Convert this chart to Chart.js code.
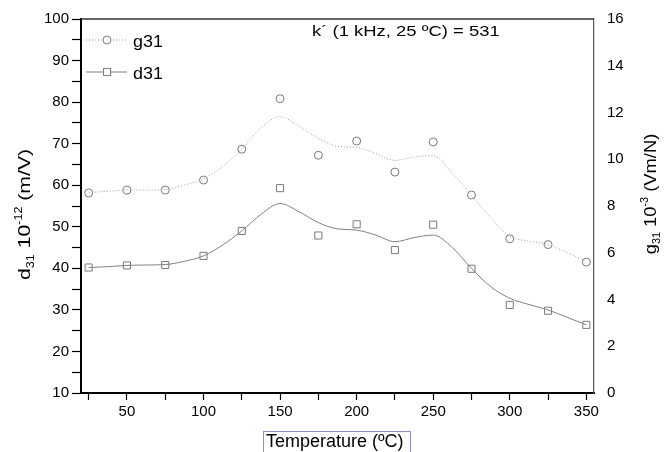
<!DOCTYPE html>
<html>
<head>
<meta charset="utf-8">
<script src="https://cdn.jsdelivr.net/npm/chart.js@4"></script>
<style>
  html,body{margin:0;padding:0;background:#fff;}
  #wrap{width:664px;height:452px;}
</style>
</head>
<body>
<div id="wrap"><canvas id="chart" width="664" height="452"></canvas></div>
<script>
// measured points
let temps=[25,50,75,100,125,150,175,200,225,250,275,300,325,350];
let d31=[40.2,40.7,40.8,43.0,49.0,59.3,47.9,50.6,44.4,50.5,39.9,31.2,29.8,26.4];
let g31=[8.56,8.68,8.68,9.11,10.43,12.59,10.17,10.78,9.45,10.74,8.47,6.60,6.35,5.60];

// smoothed curves
let curveTemps=[25,37.5,50,62.5,75,87.5,100,112.5,125,137.5,150,162.5,175,187.5,200,212.5,225,237.5,250,262.5,275,287.5,300,312.5,325,337.5,350];
let d31Curve=[40.2,40.4,40.7,40.8,40.9,41.7,43.0,45.6,49.0,53.0,55.6,53.6,51.0,49.5,49.2,48.0,46.4,47.4,48.0,45.0,40.0,35.6,32.8,31.3,30.0,28.2,26.4];
let g31Curve=[8.57,8.63,8.68,8.68,8.70,8.90,9.15,9.7,10.43,11.35,11.82,11.4,10.9,10.55,10.5,10.25,9.95,10.1,10.15,9.4,8.45,7.5,6.7,6.5,6.35,6.0,5.62];

let xTicks=[25,50,75,100,125,150,175,200,225,250,275,300,325,350];
let yTicks=[10,15,20,25,30,35,40,45,50,55,60,65,70,75,80,85,90,95,100];
let y2Ticks=[0,2,4,6,8,10,12,14,16];

let FONT='"Liberation Sans", Arial, sans-serif';

function pts(xs,ys){
  return xs.map((x,i)=>({x:x,y:ys[i]}));
}

// text with horizontal stretch
function stext(ctx,str,x,y,size,sx){
  ctx.save();
  ctx.font=size+'px '+FONT;
  ctx.translate(x,y);
  ctx.scale(sx,1);
  ctx.fillText(str,0,0);
  ctx.restore();
}

// rotated title with sub/superscripts
function richWidth(ctx,parts,sx){
  let w=0;
  parts.forEach(p=>{
    ctx.font=p.size+'px '+FONT;
    w+=ctx.measureText(p.t).width*sx;
  });
  return w;
}
function drawRich(ctx,parts,x,y,sx){
  ctx.save();
  ctx.translate(x,y);
  ctx.rotate(-Math.PI/2);
  ctx.scale(sx,1);
  let cx=0;
  parts.forEach(p=>{
    ctx.font=p.size+'px '+FONT;
    ctx.fillText(p.t,cx,p.dy);
    cx+=ctx.measureText(p.t).width;
  });
  ctx.restore();
}

let extras={
  id:'extras',
  afterDraw(chart){
    let ctx=chart.ctx;
    let a=chart.chartArea;
    ctx.save();
    // top frame
    ctx.strokeStyle='#333';
    ctx.lineWidth=1.5;
    ctx.beginPath();
    ctx.moveTo(a.left,a.top);
    ctx.lineTo(a.right,a.top);
    ctx.stroke();

    ctx.fillStyle='#000';
    ctx.textAlign='left';
    ctx.textBaseline='alphabetic';

    // legend
    ctx.strokeStyle='#999';
    ctx.lineWidth=1;
    ctx.setLineDash([1,2]);
    ctx.beginPath();ctx.moveTo(86,40);ctx.lineTo(127,40);ctx.stroke();
    ctx.setLineDash([]);
    ctx.strokeStyle='#808080';
    ctx.beginPath();ctx.moveTo(86,72);ctx.lineTo(127,72);ctx.stroke();
    ctx.fillStyle='#fff';
    ctx.beginPath();ctx.arc(107,40,4,0,Math.PI*2);ctx.fill();ctx.stroke();
    ctx.fillRect(103.5,68.5,7,7);ctx.strokeRect(103.5,68.5,7,7);
    ctx.fillStyle='#000';
    stext(ctx,'g31',133,47,16,1.12);
    stext(ctx,'d31',133,79,16,1.12);

    // annotation
    stext(ctx,'k\u00b4 (1 kHz, 25 \u00baC) = 531',312,36,15,1.23);

    // left title
    let left=[
      {t:'d',size:17,dy:0},
      {t:'31',size:10,dy:4},
      {t:' 10',size:17,dy:0},
      {t:'-12',size:10,dy:-8},
      {t:' (m/V)',size:17,dy:0}
    ];
    drawRich(ctx,left,30,280,1.25);

    // right title
    let right=[
      {t:'g',size:17,dy:0},
      {t:'31',size:10,dy:4},
      {t:' 10',size:17,dy:0},
      {t:'-3',size:10,dy:-8},
      {t:' (Vm/N)',size:17,dy:0}
    ];
    let rw=richWidth(ctx,right,1.08);
    drawRich(ctx,right,656,194+rw/2,1.08);

    // x title in a box
    ctx.strokeStyle='#8a90c4';
    ctx.lineWidth=1;
    ctx.strokeRect(263.5,431.5,147,30);
    ctx.font='18px '+FONT;
    ctx.fillText('Temperature (\u00baC)',266,447);
    ctx.restore();
  }
};

let ctx=document.getElementById('chart').getContext('2d');
let chart=new Chart(ctx,{
  type:'line',
  data:{
    datasets:[
      {
        label:'g31 fit',
        data:pts(curveTemps,g31Curve),
        yAxisID:'y2',
        borderColor:'#9a9a9a',
        borderWidth:1,
        borderDash:[1,2],
        pointRadius:0,
        cubicInterpolationMode:'monotone',
        fill:false
      },
      {
        label:'d31 fit',
        data:pts(curveTemps,d31Curve),
        yAxisID:'y',
        borderColor:'#808080',
        borderWidth:1,
        pointRadius:0,
        cubicInterpolationMode:'monotone',
        fill:false
      },
      {
        label:'g31',
        data:pts(temps,g31),
        yAxisID:'y2',
        showLine:false,
        pointStyle:'circle',
        pointRadius:4,
        pointBorderWidth:1,
        pointBorderColor:'#7a7a7a',
        pointBackgroundColor:'#fff'
      },
      {
        label:'d31',
        data:pts(temps,d31),
        yAxisID:'y',
        showLine:false,
        pointStyle:'rect',
        pointRadius:5,
        pointBorderWidth:1,
        pointBorderColor:'#7a7a7a',
        pointBackgroundColor:'#fff'
      }
    ]
  },
  options:{
    responsive:false,
    animation:false,
    layout:{padding:{top:19,left:0,right:0,bottom:0}},
    plugins:{legend:{display:false},tooltip:{enabled:false}},
    scales:{
      x:{
        type:'linear',
        min:20,max:355,
        afterBuildTicks(s){s.ticks=xTicks.map(v=>({value:v}));},
        afterFit(s){s.height=59;},
        ticks:{
          autoSkip:false,maxRotation:0,
          color:'#000',padding:3,
          font:{family:FONT,size:15},
          callback:v=>(v%50===0?v:'')
        },
        grid:{drawOnChartArea:false,tickLength:7,tickColor:'#000',tickWidth:1.2},
        border:{color:'#000',width:2}
      },
      y:{
        position:'left',
        min:10,max:100,
        afterBuildTicks(s){s.ticks=yTicks.map(v=>({value:v}));},
        afterFit(s){s.width=81;},
        ticks:{
          autoSkip:false,color:'#000',padding:3,
          font:{family:FONT,size:15},
          callback:v=>(v%10===0?v:'')
        },
        grid:{drawOnChartArea:false,tickLength:9,tickColor:'#000',tickWidth:1.2},
        border:{color:'#000',width:2}
      },
      y2:{
        position:'right',
        min:0,max:16,
        afterBuildTicks(s){s.ticks=y2Ticks.map(v=>({value:v}));},
        afterFit(s){s.width=70;},
        ticks:{
          autoSkip:false,color:'#000',padding:5,
          font:{family:FONT,size:15}
        },
        grid:{display:false,drawOnChartArea:false},
        border:{display:true,color:'#555',width:1.2}
      }
    }
  },
  plugins:[extras]
});
</script>
</body>
</html>
